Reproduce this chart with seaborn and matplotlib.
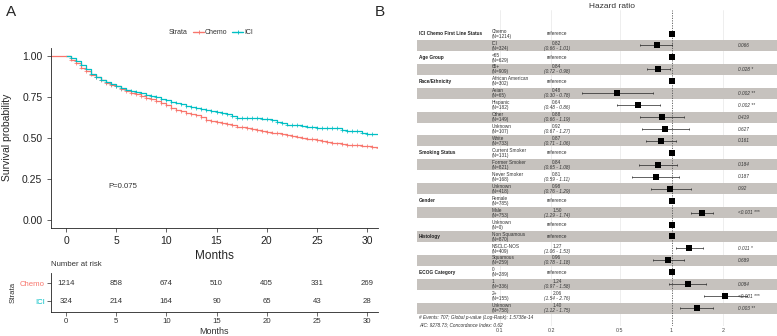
import numpy as np
import pandas as pd
import matplotlib
matplotlib.use("Agg")
import matplotlib.pyplot as plt
from matplotlib.lines import Line2D
import seaborn as sns

# ---- Panel A: Kaplan-Meier curves (every half month) ----
km_months = [0, 0.5, 1, 1.5, 2, 2.5, 3, 3.5, 4, 4.5, 5, 5.5, 6, 6.5, 7, 7.5, 8, 8.5, 9, 9.5,
             10, 10.5, 11, 11.5, 12, 12.5, 13, 13.5, 14, 14.5, 15, 15.5, 16, 16.5, 17, 17.5,
             18, 18.5, 19, 19.5, 20, 20.5, 21, 21.5, 22, 22.5, 23, 23.5, 24, 24.5, 25, 25.5,
             26, 26.5, 27, 27.5, 28, 28.5, 29, 29.5, 30, 30.5, 31.1]
chemo_surv = [1.0, 0.979, 0.955, 0.93, 0.908, 0.887, 0.87, 0.852, 0.836, 0.825, 0.815, 0.80,
              0.786, 0.776, 0.766, 0.756, 0.745, 0.735, 0.725, 0.713, 0.698, 0.684, 0.671,
              0.661, 0.651, 0.645, 0.637, 0.626, 0.61, 0.602, 0.595, 0.589, 0.585, 0.577,
              0.569, 0.565, 0.559, 0.552, 0.548, 0.54, 0.534, 0.532, 0.528, 0.521, 0.515,
              0.511, 0.507, 0.501, 0.495, 0.491, 0.487, 0.48, 0.474, 0.47, 0.466, 0.462,
              0.458, 0.456, 0.454, 0.452, 0.448, 0.444, 0.437]
ici_surv = [1.0, 0.988, 0.971, 0.945, 0.918, 0.893, 0.873, 0.856, 0.842, 0.828, 0.815, 0.805,
            0.795, 0.786, 0.78, 0.772, 0.764, 0.756, 0.75, 0.739, 0.729, 0.721, 0.715, 0.704,
            0.696, 0.69, 0.684, 0.678, 0.671, 0.665, 0.657, 0.651, 0.643, 0.632, 0.622,
            0.622, 0.622, 0.622, 0.62, 0.618, 0.616, 0.606, 0.595, 0.589, 0.581, 0.579,
            0.579, 0.575, 0.569, 0.565, 0.559, 0.559, 0.559, 0.559, 0.559, 0.548, 0.54,
            0.54, 0.54, 0.532, 0.524, 0.524, 0.524]

risk_times = [0, 5, 10, 15, 20, 25, 30]
risk_chemo = [1214, 858, 674, 510, 405, 331, 269]
risk_ici = [324, 214, 164, 90, 65, 43, 28]

# ---- Panel B: forest plot ----
fp_group = ["ICI Chemo First Line Status", "", "Age Group", "", "Race/Ethnicity", "", "", "",
            "", "", "Smoking Status", "", "", "", "Gender", "", "", "Histology", "", "",
            "ECOG Category", "", "", ""]
fp_level = ["Chemo", "ICI", "<65", "65+", "African American", "Asian", "Hispanic", "Other",
            "Unknown", "White", "Current Smoker", "Former Smoker", "Never Smoker", "Unknown",
            "Female", "Male", "Unknown", "Non Squamous", "NSCLC-NOS", "Squamous",
            "0", "1", "2+", "Unknown"]
fp_n = [1214, 324, 629, 909, 302, 65, 182, 149, 107, 733, 131, 821, 168, 418,
        785, 753, 0, 870, 409, 259, 289, 336, 155, 758]
fp_hr = [1, 0.82, 1, 0.84, 1, 0.48, 0.64, 0.88, 0.92, 0.87, 1, 0.84, 0.81, 0.98,
         1, 1.50, 1, 1, 1.27, 0.96, 1, 1.24, 2.06, 1.40]
fp_lo = [None, 0.66, None, 0.72, None, 0.30, 0.48, 0.66, 0.67, 0.71, None, 0.65, 0.59, 0.76,
         None, 1.29, None, None, 1.06, 0.78, None, 0.97, 1.54, 1.12]
fp_hi = [None, 1.01, None, 0.98, None, 0.78, 0.86, 1.19, 1.27, 1.06, None, 1.08, 1.11, 1.29,
         None, 1.74, None, None, 1.53, 1.18, None, 1.58, 2.76, 1.75]
fp_p = ["", "0.066", "", "0.028 *", "", "0.002 **", "0.002 **", "0.419", "0.627", "0.161",
        "", "0.184", "0.187", "0.92", "", "<0.001 ***", "", "", "0.011 *", "0.689",
        "", "0.084", "<0.001 ***", "0.003 **"]
fp_ticks = [0.1, 0.2, 0.5, 1, 2]

red, teal = "#F8766D", "#00BFC4"
txt = "#333333"

sns.set_style("ticks")
plt.rcParams["font.family"] = ["Liberation Sans", "DejaVu Sans"]

W, H = 777, 336
fig = plt.figure(figsize=(W / 100, H / 100), dpi=100)


def px_axes(x0, y0, x1, y1):
    return fig.add_axes([x0 / W, 1 - y1 / H, (x1 - x0) / W, (y1 - y0) / H])


# ================= Panel A =================
ax_km = px_axes(51, 47.9, 378, 227.7)
km_df = pd.concat([
    pd.DataFrame({"time": km_months, "surv": chemo_surv, "strata": "Chemo"}),
    pd.DataFrame({"time": km_months, "surv": ici_surv, "strata": "ICI"}),
])
pal = {"Chemo": red, "ICI": teal}
sns.lineplot(data=km_df, x="time", y="surv", hue="strata", palette=pal, estimator=None,
             drawstyle="steps-post", linewidth=0.9, legend=False, ax=ax_km)
ax_km.plot([-1.5, 0], [1, 1], color=red, lw=0.9)
cens = km_df[km_df["time"] > 0]
sns.scatterplot(data=cens, x="time", y="surv", hue="strata", palette=pal, marker="+",
                s=7, linewidth=0.5, legend=False, ax=ax_km)
ax_km.set_xlim(-1.5, 31.1)
ax_km.set_ylim(-0.05, 1.05)
ax_km.set_xticks([0, 5, 10, 15, 20, 25, 30])
ax_km.set_yticks([0, 0.25, 0.5, 0.75, 1.0])
ax_km.set_yticklabels(["0.00", "0.25", "0.50", "0.75", "1.00"])
ax_km.tick_params(labelsize=7.5, length=2.75, width=0.5, pad=3.5, colors="#222222")
for s in ["top", "right"]:
    ax_km.spines[s].set_visible(False)
for s in ["left", "bottom"]:
    ax_km.spines[s].set_linewidth(0.6)
    ax_km.spines[s].set_color("#222222")
ax_km.set_xlabel("Months", fontsize=8.5)
ax_km.xaxis.set_label_coords(0.5, -(256 - 227.7) / 179.8)
ax_km.xaxis.label.set_va("center")
ax_km.set_ylabel("Survival probability", fontsize=7.5)
ax_km.yaxis.set_label_coords((7.5 - 51) / 327, 0.5)
ax_km.yaxis.label.set_va("center")
ax_km.text(4.2, 0.2, "P=0.075", fontsize=5.6, ha="left", va="center", color=txt)

# legend strip on top
fig.text(169 / W, 1 - 32.3 / H, "Strata", fontsize=5, ha="left", va="center", color=txt)
for (x0, x1, col, lab) in [(193, 204, red, "Chemo"), (232, 243, teal, "ICI")]:
    fig.add_artist(Line2D([x0 / W, x1 / W], [1 - 32.3 / H] * 2, color=col, lw=1,
                          transform=fig.transFigure))
    fig.add_artist(Line2D([(x0 + x1) / 2 / W], [1 - 32.3 / H], color=col, marker="+",
                          ms=3, mew=0.6, transform=fig.transFigure))
    fig.text((x1 + 1) / W, 1 - 32.3 / H, lab, fontsize=5, ha="left", va="center", color=txt)

# risk table
ax_rk = px_axes(51, 272.7, 378, 311.7)
ax_rk.set_xlim(-1.5, 31.1)
ax_rk.set_ylim(0.4, 2.6)
for t, c, i in zip(risk_times, risk_chemo, risk_ici):
    ax_rk.text(t, 2, str(c), fontsize=5.6, ha="center", va="center", color=txt)
    ax_rk.text(t, 1, str(i), fontsize=5.6, ha="center", va="center", color=txt)
ax_rk.set_xticks(risk_times)
ax_rk.set_yticks([2, 1])
ax_rk.set_yticklabels(["Chemo", "ICI"])
for lbl, col in zip(ax_rk.get_yticklabels(), [red, teal]):
    lbl.set_color(col)
ax_rk.tick_params(labelsize=5.6, length=2.75, width=0.5, pad=1.5)
ax_rk.tick_params(axis="x", colors=txt)
for s in ["top", "right"]:
    ax_rk.spines[s].set_visible(False)
for s in ["left", "bottom"]:
    ax_rk.spines[s].set_linewidth(0.6)
    ax_rk.spines[s].set_color("#222222")
ax_rk.set_xlabel("Months", fontsize=6.5, color=txt)
ax_rk.xaxis.set_label_coords(0.5, -(331 - 311.7) / 39)
ax_rk.xaxis.label.set_va("center")
ax_rk.set_ylabel("Strata", fontsize=5.6, color=txt)
ax_rk.yaxis.set_label_coords((12.7 - 51) / 327, 0.5)
ax_rk.yaxis.label.set_va("center")
fig.text(50.7 / W, 1 - 265 / H, "Number at risk", fontsize=5.6, ha="left", va="center", color=txt)

fig.text(11 / W, 1 - 12.5 / H, "A", fontsize=11, ha="center", va="center")
fig.text(380 / W, 1 - 12.5 / H, "B", fontsize=11, ha="center", va="center")

# ================= Panel B =================
ax_fp = px_axes(417, 10, 777, 326)
ax_fp.set_xscale("log")
ax_fp.set_xlim(10 ** ((417 - 671.5) / 172), 10 ** ((777 - 671.5) / 172))
ax_fp.set_ylim(25.5, -0.97)
for s in ax_fp.spines.values():
    s.set_visible(False)
ax_fp.set_yticks([])
ax_fp.set_xticks(fp_ticks)
ax_fp.set_xticklabels([str(t) for t in fp_ticks])
ax_fp.xaxis.set_minor_locator(matplotlib.ticker.NullLocator())
ax_fp.tick_params(axis="x", labelsize=3.8, length=0, pad=1.5, colors="#444444")
for t in [0.1, 0.2, 0.5, 2]:
    ax_fp.axvline(t, color="#EBEBEB", lw=0.6, zorder=0)

rows = np.arange(1, len(fp_level) + 1)
for r in rows:
    if r % 2 == 0:
        ax_fp.axhspan(r - 0.46, r + 0.46, color="#C6C2BE", lw=0, zorder=1)
ax_fp.axvline(1, color="#555555", lw=0.6, ls=(0, (1.5, 1.5)), zorder=2)

fp_df = pd.DataFrame({"row": rows, "hr": fp_hr, "lo": fp_lo, "hi": fp_hi})
ci = fp_df.dropna()
ax_fp.errorbar(ci["hr"], ci["row"], xerr=[ci["hr"] - ci["lo"], ci["hi"] - ci["hr"]],
               fmt="none", ecolor="#222222", elinewidth=0.5, capsize=0.8, capthick=0.5, zorder=3)
sns.scatterplot(data=fp_df, x="hr", y="row", marker="s", s=16, color="black",
                linewidth=0, legend=False, ax=ax_fp, zorder=4)
ax_fp.set_xlabel("")
ax_fp.set_ylabel("")

tr = ax_fp.get_yaxis_transform()
fs = 3.4
for r, g, lev, n, hr, lo, hi, p in zip(rows, fp_group, fp_level, fp_n, fp_hr, fp_lo, fp_hi, fp_p):
    if g:
        ax_fp.text(0.0056, r, g, transform=tr, fontsize=fs, fontweight="bold",
                   ha="left", va="center", color="#222222")
    ax_fp.text(0.208, r - 0.2, lev, transform=tr, fontsize=fs, ha="left", va="center", color=txt)
    ax_fp.text(0.208, r + 0.22, f"(N={n})", transform=tr, fontsize=fs, ha="left",
               va="center", color=txt)
    if lo is None:
        ax_fp.text(0.3886, r, "reference", transform=tr, fontsize=fs, ha="center",
                   va="center", color=txt)
    else:
        ax_fp.text(0.3886, r - 0.2, f"{hr:.2f}", transform=tr, fontsize=fs, ha="center",
                   va="center", color=txt)
        ax_fp.text(0.3886, r + 0.22, f"({lo:.2f} - {hi:.2f})", transform=tr, fontsize=fs,
                   ha="center", va="center", color=txt, style="italic")
    if p:
        ax_fp.text(0.8917, r, p, transform=tr, fontsize=fs, ha="left", va="center",
                   color=txt, style="italic")

ax_fp.text(0.0056, 24.81, "# Events: 707; Global p-value (Log-Rank): 1.5738e-14",
           transform=tr, fontsize=fs, ha="left", va="center", color=txt, style="italic")
ax_fp.text(0.0056, 25.37, "AIC: 9278.73; Concordance Index: 0.62",
           transform=tr, fontsize=fs, ha="left", va="center", color=txt, style="italic")
fig.text(612 / W, 1 - 6.5 / H, "Hazard ratio", fontsize=6, ha="center", va="center", color=txt)

fig.savefig("out.png", dpi=100)
